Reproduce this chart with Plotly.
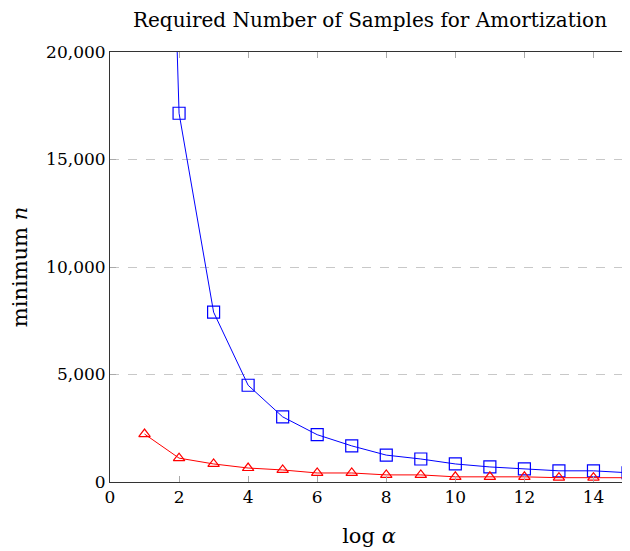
import plotly.graph_objects as go

x_vals = list(range(1, 16))
blue_n = [70000, 17150, 7900, 4500, 3030, 2200, 1680, 1250, 1070, 840, 700, 610, 520, 520, 430]
red_n = [2230, 1110, 840, 650, 560, 420, 420, 330, 330, 240, 240, 240, 200, 200, 200]

x_ticks = [0, 2, 4, 6, 8, 10, 12, 14]
y_ticks = [0, 5000, 10000, 15000, 20000]
y_tick_text = ["0", "5,000", "10,000", "15,000", "20,000"]

font_family = "DejaVu Serif, Liberation Serif, serif"

fig = go.Figure()
fig.add_trace(go.Scatter(
    x=x_vals, y=blue_n, mode="lines+markers",
    line=dict(color="#0000ff", width=1),
    marker=dict(symbol="square-open", size=12, color="#0000ff", line=dict(width=1.2)),
    showlegend=False, cliponaxis=True,
))
fig.add_trace(go.Scatter(
    x=x_vals, y=red_n, mode="lines+markers",
    line=dict(color="#ff0000", width=1),
    marker=dict(symbol="triangle-up-open", size=10, color="#ff0000", line=dict(width=1.2)),
    showlegend=False, cliponaxis=True,
))

# the page body adds an 8px margin, so the figure is 8px smaller on each axis
fig.update_layout(
    width=622, height=543,
    margin=dict(l=102, r=2, t=44, b=69, autoexpand=False),
    paper_bgcolor="white", plot_bgcolor="white",
    font=dict(family=font_family, size=17, color="black"),
    title=dict(text="Required Number of Samples for Amortization",
               x=0.582, xanchor="center", y=0.978, yanchor="middle",
               font=dict(family=font_family, size=20, color="black")),
)
fig.update_xaxes(
    range=[0, 15], tickvals=x_ticks, ticks="inside", ticklen=6, tickcolor="#aaaaaa",
    showline=True, linecolor="#333333", linewidth=1, mirror="ticks",
    showgrid=False, zeroline=False, automargin=False,
    title=dict(text="log <i>α</i>", standoff=21, font=dict(size=21)),
)
fig.update_yaxes(
    range=[0, 20000], tickvals=y_ticks, ticktext=y_tick_text, ticks="inside", ticklen=6,
    tickcolor="#aaaaaa", showline=True, linecolor="#333333", linewidth=1, mirror="ticks",
    showgrid=True, gridcolor="#c8c8c8", griddash="dash", gridwidth=1, zeroline=False,
    automargin=False,
    title=dict(text="minimum <i>n</i>", standoff=12, font=dict(size=21)),
)

fig.write_html("out.html")
